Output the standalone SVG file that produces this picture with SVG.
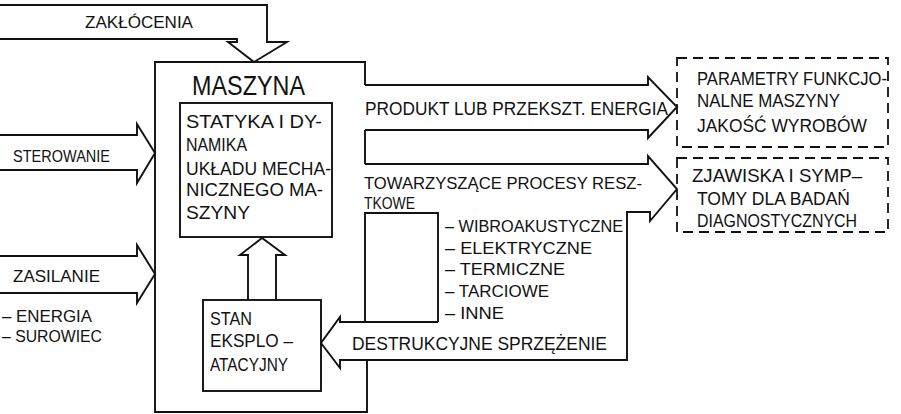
<svg xmlns="http://www.w3.org/2000/svg" width="901" height="414" viewBox="0 0 901 414">
<style>
.ln{fill:none;stroke:#111;stroke-width:1.9;stroke-linejoin:miter}
.ds{fill:none;stroke:#111;stroke-width:1.8;stroke-dasharray:10 6}
text{font-family:"Liberation Sans","DejaVu Sans",Arial,sans-serif;fill:#111;font-size:17.5px}
.s15{font-size:16.5px}
.big{font-size:27px}
</style>
<rect width="901" height="414" fill="#fff"/>
<g id="connectors">
  <path id="zaklocenia" class="ln" d="M0,5 L267,5 L267,42 L287,42 L254,62 L228,42 L237,42 L237,39 L0,39"/>
  <path id="sterowanie" class="ln" d="M0,135 L137,135 L137,124 L155,153 L137,183 L137,170 L0,170"/>
  <path id="zasilanie" class="ln" d="M0,256 L137,256 L137,245 L155,274 L137,303 L137,293 L0,293"/>
  <path id="produkt" class="ln" d="M365,85 L648,85 L648,77 L677,107 L648,138 L648,130 L365,130"/>
  <path id="procesy" class="ln" d="M365,164 L648,164 L648,156 L677,189 L650,221 L650,212 L627,212 L627,360 L367,360"/>
  <path id="destrukcyjne" class="ln" d="M438,322 L340,322 L340,317 L321,343 L340,368 L340,360 L367,360"/>
  <path id="notch" class="ln" d="M365,322 L365,213 L438,213 L438,322"/>
  <path id="stan-up" class="ln" d="M248,300 L248,255 L240,255 L262,238 L285,255 L276,255 L276,300"/>
</g>
<g id="maszyna">
  <path class="ln" d="M365,85 L365,62 L155,62 L155,412 L367,412 L367,360 M365,130 L365,164"/>
  <text class="big" x="192" y="95" textLength="113" lengthAdjust="spacingAndGlyphs">MASZYNA</text>
</g>
<g id="statyka">
  <rect class="ln" x="180" y="103" width="152" height="134"/>
  <text x="186" y="128" textLength="136" lengthAdjust="spacingAndGlyphs">STATYKA I DY-</text>
  <text x="186" y="151" textLength="61" lengthAdjust="spacingAndGlyphs">NAMIKA</text>
  <text x="186" y="175" textLength="145" lengthAdjust="spacingAndGlyphs">UKŁADU MECHA-</text>
  <text x="186" y="196" textLength="137" lengthAdjust="spacingAndGlyphs">NICZNEGO MA-</text>
  <text x="186" y="219" textLength="64" lengthAdjust="spacingAndGlyphs">SZYNY</text>
</g>
<g id="stan">
  <rect class="ln" x="203" y="300" width="118" height="91"/>
  <text x="210" y="325" textLength="42" lengthAdjust="spacingAndGlyphs">STAN</text>
  <text x="210" y="347" textLength="83" lengthAdjust="spacingAndGlyphs">EKSPLO –</text>
  <text x="210" y="371" textLength="78" lengthAdjust="spacingAndGlyphs">ATACYJNY</text>
</g>
<g id="labels">
  <text class="s15" x="85" y="28" textLength="108" lengthAdjust="spacingAndGlyphs">ZAKŁÓCENIA</text>
  <text class="s15" x="13" y="162" textLength="97" lengthAdjust="spacingAndGlyphs">STEROWANIE</text>
  <text class="s15" x="13" y="282" textLength="87" lengthAdjust="spacingAndGlyphs">ZASILANIE</text>
  <text class="s15" x="2" y="322" textLength="90" lengthAdjust="spacingAndGlyphs">– ENERGIA</text>
  <text class="s15" x="2" y="342" textLength="100" lengthAdjust="spacingAndGlyphs">– SUROWIEC</text>
  <text x="365" y="115" textLength="303" lengthAdjust="spacingAndGlyphs">PRODUKT LUB PRZEKSZT. ENERGIA</text>
  <text class="s15" x="364" y="189" textLength="278" lengthAdjust="spacingAndGlyphs">TOWARZYSZĄCE PROCESY RESZ-</text>
  <text class="s15" x="364" y="209" textLength="51" lengthAdjust="spacingAndGlyphs">TKOWE</text>
  <text class="s15" x="445" y="232" textLength="178" lengthAdjust="spacingAndGlyphs">– WIBROAKUSTYCZNE</text>
  <text class="s15" x="445" y="254" textLength="147" lengthAdjust="spacingAndGlyphs">– ELEKTRYCZNE</text>
  <text class="s15" x="445" y="275" textLength="120" lengthAdjust="spacingAndGlyphs">– TERMICZNE</text>
  <text class="s15" x="445" y="297" textLength="104" lengthAdjust="spacingAndGlyphs">– TARCIOWE</text>
  <text class="s15" x="445" y="319" textLength="59" lengthAdjust="spacingAndGlyphs">– INNE</text>
  <text x="352" y="350" textLength="255" lengthAdjust="spacingAndGlyphs">DESTRUKCYJNE SPRZĘŻENIE</text>
</g>
<g id="parametry">
  <rect class="ds" x="677" y="58" width="211" height="89"/>
  <text x="697" y="85" textLength="190" lengthAdjust="spacingAndGlyphs">PARAMETRY FUNKCJO-</text>
  <text x="697" y="107" textLength="143" lengthAdjust="spacingAndGlyphs">NALNE MASZYNY</text>
  <text x="697" y="132" textLength="170" lengthAdjust="spacingAndGlyphs">JAKOŚĆ WYROBÓW</text>
</g>
<g id="zjawiska">
  <rect class="ds" x="677" y="158" width="211" height="74"/>
  <text x="692" y="182" textLength="170" lengthAdjust="spacingAndGlyphs">ZJAWISKA I SYMP–</text>
  <text x="697" y="205" textLength="153" lengthAdjust="spacingAndGlyphs">TOMY DLA BADAŃ</text>
  <text x="697" y="227" textLength="160" lengthAdjust="spacingAndGlyphs">DIAGNOSTYCZNYCH</text>
</g>
</svg>
